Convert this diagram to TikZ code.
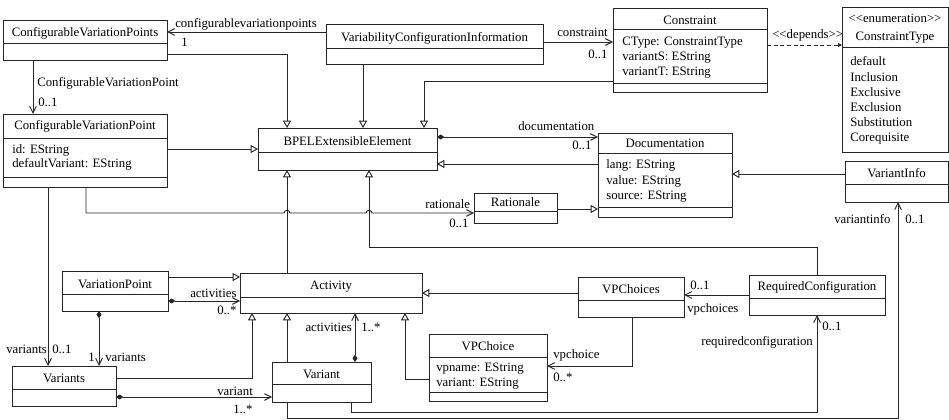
\documentclass[tikz,border=0pt]{standalone}
\usepackage{fontspec}
\newfontfamily\umlfont{Liberation Serif}
\usetikzlibrary{arrows.meta}

\tikzset{
  umlline/.style={line width=0.7pt, draw=black!85},
  classbox/.style={umlline, fill=white, inner sep=0pt, outer sep=0pt},
  txt/.style={inner sep=0pt, anchor=base west, text=black, font=\umlfont\fontsize{9.6}{11}\selectfont},
  ctitle/.style={txt, anchor=base},
  gen/.style={umlline, -{Triangle[length=5.5pt,width=6pt,fill=white]}},
  assoc/.style={umlline, -{Straight Barb[length=5pt,width=5pt]}},
  comp/.style={umlline, {Diamond[length=5.5pt,width=3.8pt]}-{Straight Barb[length=5pt,width=5pt]}},
  depend/.style={umlline, dash pattern=on 3pt off 2pt, -{Triangle[length=3pt,width=3pt]}},
}

% class box: name, x1, y1, x2, y2, compartment dividers, title, title baseline
\newcommand{\umlclass}[8]{%
  \node[classbox, minimum width={(#4-#2)*0.75pt}, minimum height={(#5-#3)*0.75pt}]
    (#1) at ({(#2+#4)/2},{(#3+#5)/2}) {};
  \foreach \d in {#6} {\draw[umlline] (#2,\d) -- (#4,\d);}
  \node[ctitle] (#1-title) at ({(#2+#4)/2},#8) {#7};
}
% attribute lines: name prefix, x, first baseline, step, list
\newcommand{\umlattrs}[5]{%
  \foreach \t [count=\i] in {#5} {\node[txt] (#1-\i) at (#2,{#3+(\i-1)*#4}) {\t};}
}

\begin{document}
\begin{tikzpicture}[x=0.75pt,y=-0.75pt]
\useasboundingbox (0,0) rectangle (949,420);

% ---------- classes ----------
\umlclass{cvps}{3}{20}{167}{60}{43}{ConfigurableVariationPoints}{37}
\umlclass{cvp}{3}{114}{167}{187}{138,177}{ConfigurableVariationPoint}{130}
\umlattrs{cvpa}{12}{154}{14}{id: EString, defaultVariant: EString}
\umlclass{vci}{326}{24}{543}{64}{48}{VariabilityConfigurationInformation}{41.5}
\umlclass{con}{613}{8}{767}{92}{29,83}{Constraint}{24.5}
\umlattrs{cona}{622}{46}{15}{CType: ConstraintType, variantS: EString, variantT: EString}
\umlclass{ctype}{842}{7}{948}{152}{47}{ConstraintType}{41}
\node[ctitle] (ctype-stereo) at (895,23) {<<enumeration>>};
\umlattrs{ctypea}{850}{66}{15.2}{default, Inclusion, Exclusive, Exclusion, Substitution, Corequisite}
\umlclass{bpel}{258}{128}{437}{170}{152}{BPELExtensibleElement}{145.5}
\umlclass{doc}{598}{133}{732}{217}{153,207}{Documentation}{148}
\umlattrs{doca}{606}{169}{15.5}{lang: EString, value: EString, source: EString}
\umlclass{rat}{474}{193}{557}{223}{211}{Rationale}{206.5}
\umlclass{vinfo}{845}{161}{948}{202}{184}{VariantInfo}{178}
\umlclass{vp}{62}{271}{168}{311}{294}{VariationPoint}{288.5}
\umlclass{act}{240}{273}{422}{313}{297}{Activity}{290}
\umlclass{vpcs}{578}{277}{684}{317}{300}{VPChoices}{293.5}
\umlclass{rc}{749}{275}{885}{315}{298}{RequiredConfiguration}{291}
\umlclass{vpc}{429}{334}{547}{401}{357,392}{VPChoice}{350.5}
\umlattrs{vpca}{436}{371}{15.5}{vpname: EString, variant: EString}
\umlclass{vnts}{12}{366}{116}{406}{389}{Variants}{382.5}
\umlclass{var}{272}{362}{371}{402}{384}{Variant}{378}

% ---------- generalizations ----------
\draw[gen] (cvps.east |- 0,54) -| (bpel.north -| 287,0);
\draw[gen] (vci.south -| 363,0) -- (bpel.north -| 363,0);
\draw[gen] (con.west |- 0,81) -| (bpel.north -| 424,0);
\draw[gen] (cvp.east |- 0,149) -- (bpel.west |- 0,149);
\draw[gen] (doc.west |- 0,164) -- (bpel.east |- 0,164);
\draw[gen] (rat.east |- 0,209) -- (doc.west |- 0,209);
\draw[gen] (vinfo.west |- 0,174) -- (doc.east |- 0,174);
\draw[gen] (act.north -| 287,0) -- (bpel.south -| 287,0);
\draw[gen] (rc.north -| 817,0) |- (369,247) -- (bpel.south -| 369,0);
\draw[gen] (vp.east |- 0,277) -- (act.west |- 0,277);
\draw[gen] (vnts.east |- 0,378) -| (act.south -| 252,0);
\draw[gen] (var.north -| 287,0) -- (act.south -| 287,0);
\draw[gen] (vpc.west |- 0,379) -| (act.south -| 405,0);
\draw[gen] (vpcs.west |- 0,293) -- (act.east |- 0,293);

% ---------- associations ----------
\draw[assoc] (vci.west |- 0,32) -- (cvps.east |- 0,32);
\draw[assoc] (cvps.south -| 33,0) -- (cvp.north -| 33,0);
\draw[assoc] (vci.east |- 0,42) -- (con.west |- 0,42);
\draw[depend] (con.east |- 0,45) -- (ctype.west |- 0,45);
\draw[assoc] (cvp.south -| 86,0) |- (284,213)
   .. controls (284,209.5) and (290,209.5) .. (290,213) -- (366,213)
   .. controls (366,209.5) and (372,209.5) .. (372,213) -- (rat.west |- 0,213);
\draw[assoc] (cvp.south -| 48,0) -- (vnts.north -| 48,0);
\draw[assoc] (rc.west |- 0,295) -- (vpcs.east |- 0,295);
\draw[assoc] (vpcs.south -| 632,0) |- (vpc.east |- 0,366);
\draw[assoc] (var.south -| 351,0) |- (817,412) -- (rc.south -| 817,0);
\draw[assoc] (var.south -| 287,0) |- (898,418) -- (vinfo.south -| 898,0);

% ---------- compositions ----------
\draw[comp] (bpel.east |- 0,137) -- (doc.west |- 0,137);
\draw[comp] (vp.east |- 0,301) -- (act.west |- 0,301);
\draw[comp] (vp.south -| 99,0) -- (vnts.north -| 99,0);
\draw[comp] (vnts.east |- 0,397) -- (var.west |- 0,397);
\draw[comp] (var.north -| 355,0) -- (act.south -| 355,0);

% ---------- role names and multiplicities ----------
\node[txt] (l1) at (175,28) {configurablevariationpoints};
\node[txt] (m1) at (181,47) {1};
\node[txt] (l2) at (37,87) {ConfigurableVariationPoint};
\node[txt] (m2) at (38,107) {0..1};
\node[txt] (l3) at (557,37) {constraint};
\node[txt] (m3) at (588,59) {0..1};
\node[txt] (l4) at (772,39) {<<depends>>};
\node[txt] (l5) at (518,131) {documentation};
\node[txt] (m5) at (572,150) {0..1};
\node[txt] (l6) at (425,209) {rationale};
\node[txt] (m6) at (449,228) {0..1};
\node[txt] (l7) at (834,224) {variantinfo};
\node[txt] (m7) at (905,224) {0..1};
\node[txt] (m8) at (690,290) {0..1};
\node[txt] (l8) at (687,312) {vpchoices};
\node[txt] (l9) at (701,345) {requiredconfiguration};
\node[txt] (m9) at (822,330) {0..1};
\node[txt] (l10) at (553,358) {vpchoice};
\node[txt] (m10) at (553,381) {0..*};
\node[txt] (l11) at (190,297) {activities};
\node[txt] (m11) at (217,314) {0..*};
\node[txt] (m12) at (88,361) {1};
\node[txt] (l12) at (105,361) {variants};
\node[txt] (l13) at (6,353) {variants};
\node[txt] (m13) at (52,353) {0..1};
\node[txt] (l14) at (217,395) {variant};
\node[txt] (m14) at (233,413) {1..*};
\node[txt, anchor=base east] (l15) at (352,331) {activities};
\node[txt] (m15) at (361,331) {1..*};
\end{tikzpicture}
\end{document}
